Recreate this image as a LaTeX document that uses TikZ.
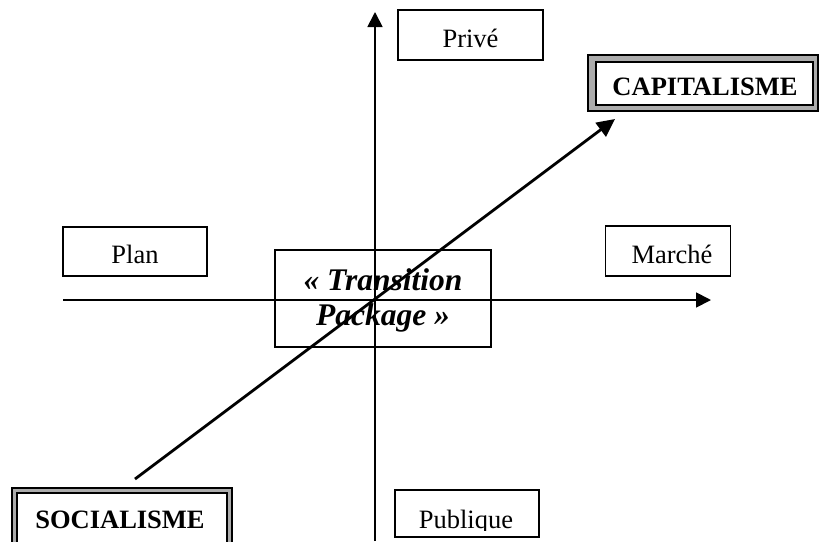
\documentclass[tikz,border=0pt]{standalone}
\usepackage{fontspec}
\setmainfont{Liberation Serif}
\usetikzlibrary{arrows.meta}
\begin{document}
\begin{tikzpicture}[x=1pt,y=-1pt,
  box/.style={draw, line width=1.4pt, rectangle, inner sep=0pt},
  label/.style={font=\fontsize{26.5}{31}\selectfont, inner sep=0pt, anchor=base},
  bigname/.style={font=\fontsize{26.5}{31}\selectfont\bfseries, inner sep=0pt, anchor=base},
  translabel/.style={font=\fontsize{31.5}{35}\selectfont\bfseries\itshape, inner sep=0pt, anchor=base},
  ax/.style={line width=1.8pt, -{Triangle[length=15pt,width=15pt]}},
  diag/.style={line width=2.8pt, -{Triangle[length=18pt,width=17pt]}},
  frameout/.style={line width=1.2pt, fill=gray!65},
  framein/.style={line width=1.2pt, fill=white}
]
\useasboundingbox (0,0) rectangle (824,541);

% plain boxes
\node[box, minimum width=145pt, minimum height=50pt] (prive) at (470.5,35) {};
\node[label] (privelabel) at (470.5,47) {Privé};
\node[box, minimum width=144pt, minimum height=49pt] (plan) at (135,251.5) {};
\node[label] (planlabel) at (135,263) {Plan};
\node[box, minimum width=125pt, minimum height=50pt] (marche) at (668,251) {};
\node[label] (marchelabel) at (672,263) {Marché};
\node[box, minimum width=216pt, minimum height=97pt] (trans) at (383,298.5) {};
\node[translabel] (t1) at (383,290) {« Transition};
\node[translabel] (t2) at (383,325) {Package »};
\node[box, minimum width=144pt, minimum height=47pt] (pub) at (467,513.5) {};
\begin{scope}
  \clip (395,490) rectangle (539,530);
  \node[label] (publabel) at (466,528) {Publique};
\end{scope}

% framed boxes
\draw[frameout] (588,55) rectangle (818,111);
\draw[framein] (596,62) rectangle (813,105);
\node[bigname] (capi) at (705,95) {CAPITALISME};

\draw[frameout] (12,488) rectangle (232,550);
\draw[framein] (17,493) rectangle (227,550);
\node[bigname] (soc) at (120,528) {SOCIALISME};

% axes
\coordinate (vb) at (375,541);
\coordinate (vt) at (375,12);
\coordinate (hl) at (63,300);
\coordinate (hr) at (711,300);
\draw[ax] (vb) -- (vt);
\draw[ax] (hl) -- (hr);

% transition arrow
\coordinate (ds) at (135,479);
\coordinate (de) at (615,119);
\draw[diag] (ds) -- (de);
\end{tikzpicture}
\end{document}
